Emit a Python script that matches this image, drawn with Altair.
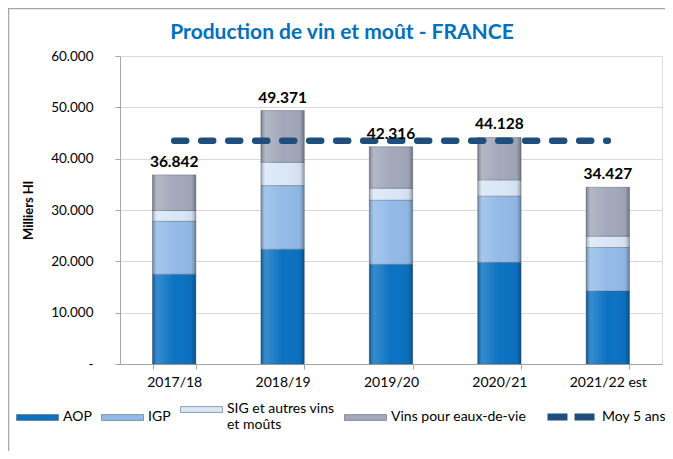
import altair as alt
import pandas as pd

years = ["2017/18", "2018/19", "2019/20", "2020/21", "2021/22 est"]
series = ["AOP", "IGP", "SIG et autres vins et moûts", "Vins pour eaux-de-vie"]
aop = [17500, 22360, 19430, 19800, 14200]
igp = [10300, 12400, 12470, 12900, 8500]
sig = [2100, 4540, 2350, 3170, 2200]
edv = [6942, 10071, 8066, 8258, 9527]
moy_5_ans = [43500, 43500, 43500, 43500, 43500]
title_text = "Production de vin et moût - FRANCE"

colors = ["#0B72C2", "#93BBE8", "#D9E7F7", "#A3A9BA"]

rows = []
for i, y in enumerate(years):
    for k, (s, vals) in enumerate(zip(series, [aop, igp, sig, edv])):
        rows.append({"year": y, "series": s, "value": vals[i], "ord": k})
df = pd.DataFrame(rows)
df_moy = pd.DataFrame({"year": years, "moy": moy_5_ans, "name": ["Moy 5 ans"] * 5})

W, H = 542, 308

x_enc = alt.X(
    "year:N", sort=years, title=None,
    scale=alt.Scale(paddingInner=0.6, paddingOuter=0.3),
    axis=alt.Axis(tickBand="extent", tickSize=5, tickColor="#A6A6A6", domainColor="#A6A6A6",
                  labelFontSize=14, labelColor="#000000", labelPadding=6, labelAngle=0,
                  labelFont="Lato"),
)
y_scale = alt.Scale(domain=[0, 60000])
y_axis = alt.Axis(
    values=[0, 10000, 20000, 30000, 40000, 50000, 60000],
    labelExpr="datum.value == 0 ? '-' : replace(format(datum.value, ',.0f'), ',', '.')",
    labelFontSize=13.5, labelColor="#000000", labelPadding=22, tickSize=5, tickColor="#A6A6A6",
    domainColor="#A6A6A6", gridColor="#D9D9D9", title="Milliers Hl", titleFontSize=13,
    titleFontWeight="bold", titleColor="#000000", titleX=-92, titleY=154, titleAngle=-90,
    titleAlign="center", titleBaseline="middle",
)

bars = alt.Chart(df).mark_bar(stroke="#505868", strokeWidth=0.6, strokeOpacity=0.7).encode(
    x=x_enc,
    y=alt.Y("value:Q", stack="zero", scale=y_scale, axis=y_axis),
    fill=alt.Fill("series:N", sort=series,
                  scale=alt.Scale(domain=series, range=colors),
                  legend=alt.Legend(
                      title=None, orient="none", legendX=-104, legendY=324, direction="horizontal",
                      symbolType="M-1,0.23H1V0.51H-1Z", symbolSize=1764,
                      symbolStrokeColor="#5A6478", symbolStrokeWidth=0.6,
                      labelFontSize=14, labelFont="Lato", labelColor="#000000",
                      labelBaseline="top", labelOffset=4, columnPadding=8,
                      labelLimit=300,
                      labelExpr="datum.label == 'SIG et autres vins et moûts' ? ['SIG et autres vins', 'et moûts'] : datum.label",
                  )),
    order=alt.Order("ord:Q"),
)

shade = alt.Chart(df).mark_bar(
    fill=alt.Gradient(
        gradient="linear", x1=0, y1=0, x2=1, y2=0,
        stops=[
            alt.GradientStop(color="rgba(0,0,0,0.28)", offset=0),
            alt.GradientStop(color="rgba(255,255,255,0.18)", offset=0.1),
            alt.GradientStop(color="rgba(255,255,255,0.0)", offset=0.5),
            alt.GradientStop(color="rgba(0,0,0,0.04)", offset=0.9),
            alt.GradientStop(color="rgba(0,0,0,0.3)", offset=1),
        ],
    )
).encode(
    x=alt.X("year:N", sort=years),
    y=alt.Y("value:Q", stack="zero"),
    detail="series:N",
    order=alt.Order("ord:Q"),
)

labels = alt.Chart(df).transform_aggregate(
    total="sum(value)", groupby=["year"]
).transform_calculate(
    lbl="replace(format(datum.total, ',.0f'), ',', '.')"
).mark_text(fontSize=15.5, fontWeight="bold", font="Lato", baseline="bottom", dy=-5, color="#000000").encode(
    x=alt.X("year:N", sort=years),
    y=alt.Y("total:Q"),
    text="lbl:N",
)

line = alt.Chart(df_moy).mark_line(strokeWidth=6.5, strokeDash=[12, 15], strokeCap="round").encode(
    x=alt.X("year:N", sort=years),
    y=alt.Y("moy:Q"),
    stroke=alt.Stroke("name:N", scale=alt.Scale(range=["#1F4E7D"]),
                      legend=alt.Legend(title=None, orient="none", legendX=424, legendY=334,
                                        symbolType="M-1,0H-0.15M0.15,0H1", symbolSize=2209,
                                        symbolStrokeWidth=7, labelFontSize=14, labelFont="Lato",
                                        labelColor="#000000", labelOffset=4)),
)

frame = alt.Chart(alt.Data(values=[{}])).mark_rect(fill="transparent", stroke="#A6A6A6", strokeWidth=1.5).encode(
    x=alt.value(-111.5), x2=alt.value(600), y=alt.value(-47.5), y2=alt.value(420)
)

title = alt.Chart(alt.Data(values=[{"t": title_text}])).mark_text(
    fontSize=21, fontWeight="bold", color="#0070C0", font="Lato", align="center", baseline="middle"
).encode(x=alt.value(222), y=alt.value(-23), text="t:N")

chart = alt.layer(frame, bars, shade, line, labels, title).resolve_scale(
    fill="independent"
).properties(
    width=W, height=H,
    padding={"left": 112, "top": 48, "right": 3, "bottom": 87},
    autosize=alt.AutoSizeParams(type="none"),
).configure_view(stroke=None).configure(font="Lato")

chart.save("out.html", embed_options={"renderer": "svg", "actions": False})
